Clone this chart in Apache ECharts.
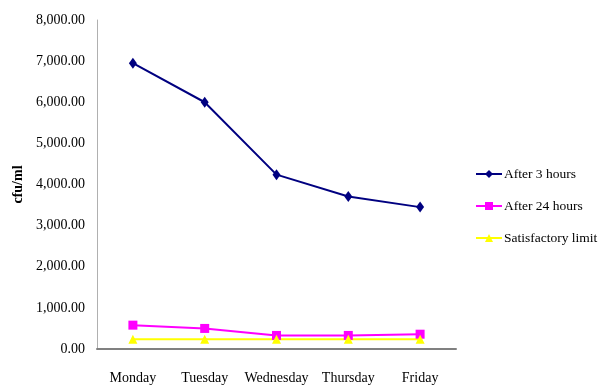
<!DOCTYPE html>
<html>
<head>
<meta charset="utf-8">
<script src="https://cdn.jsdelivr.net/npm/echarts@6/dist/echarts.min.js"></script>
<style>
    html, body {margin: 0; padding: 0; background: #fff;}
    #chart01 {width: 601px; height: 386px;}
</style>
</head>
<body>
<div id="chart01"></div>
<script>
var dayArr = ['Monday', 'Tuesday', 'Wednesday', 'Thursday', 'Friday'];
var after3hArr = [6950, 6000, 4240, 3710, 3450];
var after24hArr = [580, 500, 330, 330, 360];
var limitArr = [240, 240, 240, 240, 240];

var chart01 = echarts.init(document.getElementById("chart01"), null, {renderer: 'canvas'});
var font = "'Liberation Serif', serif";

var option = {
    animation: false,
    textStyle: {fontFamily: font},
    grid: {
        left: 97,
        right: 145,
        top: 20,
        bottom: 37
    },
    legend: {
        orient: 'vertical',
        left: 475,
        top: 167,
        padding: 0,
        itemGap: 18,
        itemWidth: 26,
        itemHeight: 10,
        textStyle: {fontFamily: font, fontSize: 13.5, color: '#000', padding: [0, 0, 0, -3]},
        data: ['After 3 hours', 'After 24 hours', 'Satisfactory limit']
    },
    xAxis: {
        type: 'category',
        data: dayArr,
        boundaryGap: true,
        axisLine: {lineStyle: {color: '#808080', width: 2}},
        axisTick: {show: false},
        axisLabel: {color: '#000', fontFamily: font, fontSize: 14, margin: 22, interval: 0}
    },
    yAxis: {
        type: 'value',
        min: 0,
        max: 8000,
        interval: 1000,
        name: 'cfu/ml',
        nameLocation: 'middle',
        nameGap: 72,
        nameTextStyle: {color: '#000', fontFamily: font, fontSize: 14, fontWeight: 'bold'},
        axisLine: {show: true, lineStyle: {color: '#b0b0b0', width: 1}},
        axisTick: {show: false},
        splitLine: {show: false},
        axisLabel: {
            color: '#000',
            fontFamily: font,
            fontSize: 14,
            margin: 12,
            formatter: function (v) {
                return v.toLocaleString('en-US', {minimumFractionDigits: 2, maximumFractionDigits: 2});
            }
        }
    },
    series: [
        {
            name: 'After 3 hours',
            type: 'line',
            data: after3hArr,
            symbol: 'diamond',
            symbolSize: [8, 11],
            lineStyle: {color: '#000080', width: 2},
            itemStyle: {color: '#000080'}
        },
        {
            name: 'After 24 hours',
            type: 'line',
            data: after24hArr,
            symbol: 'rect',
            symbolSize: 9,
            lineStyle: {color: '#ff00ff', width: 2},
            itemStyle: {color: '#ff00ff'}
        },
        {
            name: 'Satisfactory limit',
            type: 'line',
            data: limitArr,
            symbol: 'triangle',
            symbolSize: 9,
            lineStyle: {color: '#ffff00', width: 2},
            itemStyle: {color: '#ffff00'}
        }
    ]
};

if (option && typeof option === "object") {
    chart01.setOption(option, true);
}
</script>
</body>
</html>
